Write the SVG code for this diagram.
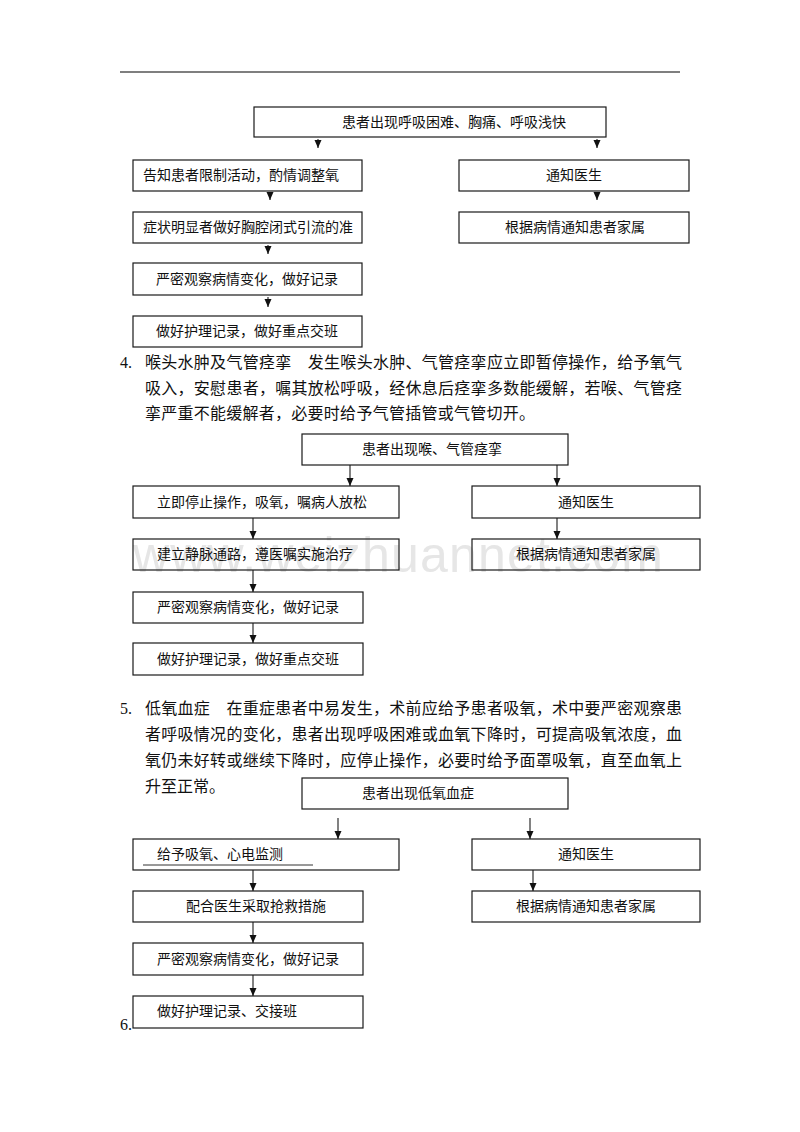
<svg xmlns="http://www.w3.org/2000/svg" width="800" height="1132" viewBox="0 0 800 1132">
<style>
.bg{fill:#ffffff}
.box{fill:none;stroke:#1a1a1a;stroke-width:1.2}
.t{font-family:"Liberation Serif","Noto Sans CJK SC",serif;font-size:14px;fill:#111}
.p{font-family:"Liberation Serif","Noto Sans CJK SC",serif;font-size:16px;fill:#111}
.c{text-anchor:middle}
.ln{stroke:#1a1a1a;stroke-width:1.1;fill:none}
.wm{font-family:"Liberation Sans",Arial,sans-serif;font-size:50px;fill:#e6e6e6}
</style>
<defs>
<marker id="ah" markerUnits="userSpaceOnUse" markerWidth="8" markerHeight="8" refX="8" refY="3.5" orient="auto">
<path d="M0,0 L8,3.5 L0,7 z" fill="#111"/>
</marker>
</defs>
<rect class="bg" x="0" y="0" width="800" height="1132"/>
<line x1="120" y1="72" x2="680" y2="72" stroke="#555" stroke-width="1.5"/>

<text class="wm" x="133" y="572" textLength="530" lengthAdjust="spacing">www.weizhuannet.com</text>

<!-- Section 1 -->
<g id="s1-top"><rect class="box" x="254" y="107" width="352" height="30"/><text class="t" x="342" y="127">患者出现呼吸困难、胸痛、呼吸浅快</text></g>
<g id="s1-l1"><rect class="box" x="133" y="160" width="229" height="31"/><text class="t" x="143" y="180">告知患者限制活动，酌情调整氧</text></g>
<g id="s1-r1"><rect class="box" x="459" y="160" width="230" height="31"/><text class="t c" x="574" y="180">通知医生</text></g>
<g id="s1-l2"><rect class="box" x="133" y="212" width="229" height="31"/><text class="t" x="143" y="232">症状明显者做好胸腔闭式引流的准</text></g>
<g id="s1-r2"><rect class="box" x="459" y="212" width="230" height="31"/><text class="t c" x="575" y="232">根据病情通知患者家属</text></g>
<g id="s1-l3"><rect class="box" x="133" y="263" width="229" height="32"/><text class="t" x="156" y="284">严密观察病情变化，做好记录</text></g>
<g id="s1-l4"><rect class="box" x="133" y="316" width="229" height="31"/><text class="t" x="156" y="336">做好护理记录，做好重点交班</text></g>

<!-- Paragraph 4 -->
<g id="para4">
<text class="p" x="120" y="368">4.</text>
<text class="p" x="145" y="368" textLength="537" lengthAdjust="spacing">喉头水肿及气管痉挛　发生喉头水肿、气管痉挛应立即暂停操作，给予氧气</text>
<text class="p" x="145" y="394" textLength="537" lengthAdjust="spacing">吸入，安慰患者，嘱其放松呼吸，经休息后痉挛多数能缓解，若喉、气管痉</text>
<text class="p" x="145" y="419" textLength="390" lengthAdjust="spacing">挛严重不能缓解者，必要时给予气管插管或气管切开。</text>
</g>

<!-- Section 4 -->
<g id="s4-top"><rect class="box" x="302" y="434" width="266" height="31"/><text class="t" x="362" y="454">患者出现喉、气管痉挛</text></g>
<g id="s4-l1"><rect class="box" x="133" y="486" width="266" height="32"/><text class="t" x="157" y="507">立即停止操作，吸氧，嘱病人放松</text></g>
<g id="s4-r1"><rect class="box" x="472" y="486" width="228" height="32"/><text class="t c" x="586" y="507">通知医生</text></g>
<g id="s4-l2"><rect class="box" x="133" y="539" width="266" height="31"/><text class="t" x="157" y="559">建立静脉通路，遵医嘱实施治疗</text></g>
<g id="s4-r2"><rect class="box" x="472" y="539" width="228" height="31"/><text class="t c" x="586" y="559">根据病情通知患者家属</text></g>
<g id="s4-l3"><rect class="box" x="133" y="592" width="230" height="31"/><text class="t" x="157" y="612">严密观察病情变化，做好记录</text></g>
<g id="s4-l4"><rect class="box" x="133" y="643" width="230" height="32"/><text class="t" x="157" y="664">做好护理记录，做好重点交班</text></g>

<!-- Paragraph 5 -->
<g id="para5">
<text class="p" x="120" y="714">5.</text>
<text class="p" x="145" y="714" textLength="537" lengthAdjust="spacing">低氧血症　在重症患者中易发生，术前应给予患者吸氧，术中要严密观察患</text>
<text class="p" x="145" y="740" textLength="537" lengthAdjust="spacing">者呼吸情况的变化，患者出现呼吸困难或血氧下降时，可提高吸氧浓度，血</text>
<text class="p" x="145" y="766" textLength="537" lengthAdjust="spacing">氧仍未好转或继续下降时，应停止操作，必要时给予面罩吸氧，直至血氧上</text>
<text class="p" x="145" y="792">升至正常。</text>
</g>

<!-- Section 5 -->
<g id="s5-top"><rect class="box" x="302" y="778" width="266" height="31"/><text class="t" x="362" y="798">患者出现低氧血症</text></g>
<g id="s5-l1"><rect class="box" x="133" y="839" width="266" height="31"/><text class="t" x="157" y="859">给予吸氧、心电监测</text><line x1="143" y1="865" x2="313" y2="865" stroke="#333" stroke-width="1"/></g>
<g id="s5-r1"><rect class="box" x="472" y="839" width="228" height="31"/><text class="t c" x="586" y="859">通知医生</text></g>
<g id="s5-l2"><rect class="box" x="133" y="891" width="230" height="31"/><text class="t" x="186" y="911">配合医生采取抢救措施</text></g>
<g id="s5-r2"><rect class="box" x="472" y="891" width="228" height="31"/><text class="t c" x="586" y="911">根据病情通知患者家属</text></g>
<g id="s5-l3"><rect class="box" x="133" y="943" width="230" height="32"/><text class="t" x="157" y="964">严密观察病情变化，做好记录</text></g>
<g id="s5-l4"><rect class="box" x="133" y="996" width="230" height="32"/><text class="t" x="157" y="1016">做好护理记录、交接班</text></g>
<text class="p" x="120" y="1030">6.</text>

<!-- Connectors -->
<g id="connectors">
<line class="ln" x1="318" y1="139" x2="318" y2="148" marker-end="url(#ah)"/>
<line class="ln" x1="597" y1="139" x2="597" y2="148" marker-end="url(#ah)"/>
<line class="ln" x1="270" y1="192" x2="270" y2="200" marker-end="url(#ah)"/>
<line class="ln" x1="597" y1="192" x2="597" y2="200" marker-end="url(#ah)"/>
<line class="ln" x1="268" y1="245" x2="268" y2="254" marker-end="url(#ah)"/>
<line class="ln" x1="268" y1="297" x2="268" y2="307" marker-end="url(#ah)"/>

<line class="ln" x1="350" y1="465" x2="350" y2="486" marker-end="url(#ah)"/>
<line class="ln" x1="557" y1="465" x2="557" y2="486" marker-end="url(#ah)"/>
<line class="ln" x1="253" y1="518" x2="253" y2="539" marker-end="url(#ah)"/>
<line class="ln" x1="557" y1="518" x2="557" y2="539" marker-end="url(#ah)"/>
<line class="ln" x1="253" y1="570" x2="253" y2="592" marker-end="url(#ah)"/>
<line class="ln" x1="253" y1="623" x2="253" y2="643" marker-end="url(#ah)"/>

<line class="ln" x1="338" y1="818" x2="338" y2="839" marker-end="url(#ah)"/>
<line class="ln" x1="530" y1="818" x2="530" y2="839" marker-end="url(#ah)"/>
<line class="ln" x1="253" y1="870" x2="253" y2="891" marker-end="url(#ah)"/>
<line class="ln" x1="533" y1="870" x2="533" y2="891" marker-end="url(#ah)"/>
<line class="ln" x1="253" y1="922" x2="253" y2="943" marker-end="url(#ah)"/>
<line class="ln" x1="253" y1="975" x2="253" y2="996" marker-end="url(#ah)"/>
</g>
</svg>
